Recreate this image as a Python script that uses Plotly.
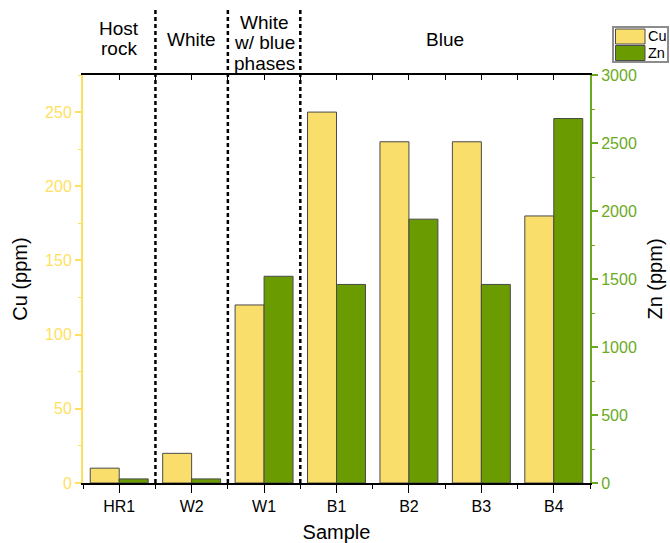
import plotly.graph_objects as go

samples = ["HR1", "W2", "W1", "B1", "B2", "B3", "B4"]
cu_ppm = [10, 20, 120, 250, 230, 230, 180]
zn_ppm = [30, 30, 1520, 1460, 1940, 1460, 2680]
group_lines = [["Host", "rock"], ["White"], ["White", "w/ blue", "phases"], ["Blue"]]
group_centers = [0, 1, 2, 4.5]
group_bounds = [0.5, 1.5, 2.5]
series_names = ["Cu", "Zn"]

YELLOW = "#F9DE6B"
YELLOW_TXT = "#FFDF60"
GREEN = "#6A9B00"
GREEN_TXT = "#6AAA1E"
FONT = "Liberation Sans, Arial, sans-serif"

# plot-area geometry (pixels) for placing header text / legend
L, R, T, B = 83, 590, 75, 483
W, H = R - L, B - T
def px_x(p):
    return (p - L) / W
def px_y(p):
    return (B - p) / H

xpos = list(range(len(samples)))

fig = go.Figure()
fig.add_trace(go.Bar(x=xpos, y=cu_ppm, name=series_names[0],
                     marker=dict(color=YELLOW, line=dict(color="#4a4a4a", width=1)),
                     offsetgroup="cu", yaxis="y"))
fig.add_trace(go.Bar(x=xpos, y=zn_ppm, name=series_names[1],
                     marker=dict(color=GREEN, line=dict(color="#4a4a4a", width=1)),
                     offsetgroup="zn", yaxis="y2"))
# helper invisible trace for top axis
fig.add_trace(go.Scatter(x=[0], y=[0], xaxis="x2", yaxis="y", mode="markers",
                         marker=dict(opacity=0), showlegend=False, hoverinfo="skip"))

shapes = []
for b in group_bounds:
    shapes.append(dict(type="line", xref="x", yref="paper", x0=b, x1=b, y0=0, y1=px_y(9),
                       line=dict(color="black", width=2.5, dash="4px,3px")))

annotations = []
line_gap = 20.5
header_mid = [38.5, 39, 42.5, 39]
for lines, c, mid in zip(group_lines, group_centers, header_mid):
    n = len(lines)
    start = mid - (n - 1) * line_gap / 2
    for i, ln in enumerate(lines):
        annotations.append(dict(text=ln, x=c, xref="x", y=px_y(start + i * line_gap), yref="paper",
                                showarrow=False, yanchor="middle",
                                font=dict(size=19, color="black", family=FONT)))

# manual legend box (top right)
shapes.append(dict(type="rect", xref="paper", yref="paper", x0=px_x(613), x1=px_x(668),
                   y0=px_y(62), y1=px_y(27), line=dict(color="#8c8c8c", width=2), fillcolor="white"))
leg_colors = [YELLOW, GREEN]
for i, (nm, col) in enumerate(zip(series_names, leg_colors)):
    y_top = 29 + i * 16.5
    shapes.append(dict(type="rect", xref="paper", yref="paper", x0=px_x(615.5), x1=px_x(645),
                       y0=px_y(y_top + 15), y1=px_y(y_top), line=dict(color="#4a4a4a", width=1),
                       fillcolor=col))
    annotations.append(dict(text=nm, xref="paper", yref="paper", x=px_x(646), y=px_y(y_top + 7.5),
                            xanchor="left", yanchor="middle", showarrow=False,
                            font=dict(size=14.5, color="black", family=FONT)))

fig.update_layout(
    width=670, height=543,
    margin=dict(l=L, r=670 - R, t=T, b=543 - B, autoexpand=False),
    paper_bgcolor="white", plot_bgcolor="white",
    barmode="group", bargap=0.2, bargroupgap=0,
    font=dict(family=FONT, color="black"),
    shapes=shapes, annotations=annotations,
    showlegend=False,
    xaxis=dict(range=[-0.5, 6.5], tickvals=xpos, ticktext=samples, showgrid=False, zeroline=False,
               showline=True, linecolor="black", linewidth=1.5, ticks="outside", ticklen=8, tickcolor="black",
               tickwidth=1.2, tickfont=dict(size=16, color="black"), automargin=False,
               minor=dict(tick0=0.5, dtick=1, ticks="outside", ticklen=4, tickcolor="black", tickwidth=1.2),
               title=dict(text="Sample", font=dict(size=20, color="black"), standoff=12)),
    xaxis2=dict(range=[-0.5, 6.5], overlaying="x", side="top", tickvals=xpos, showticklabels=False,
                showgrid=False, zeroline=False, showline=True, linecolor="black", linewidth=1.5,
                ticks="inside", ticklen=5, tickcolor="black", tickwidth=1.2, automargin=False,
                minor=dict(tick0=0.5, dtick=1, ticks="inside", ticklen=5, tickcolor="black", tickwidth=1.2)),
    yaxis=dict(range=[0, 275], dtick=50, showgrid=False, zeroline=False, showline=True,
               linecolor=YELLOW_TXT, linewidth=2, ticks="outside", ticklen=6, tickcolor=YELLOW_TXT, tickwidth=1.5,
               tickfont=dict(size=16, color=YELLOW_TXT), automargin=False,
               minor=dict(dtick=25, ticks="outside", ticklen=3, tickcolor=YELLOW_TXT, tickwidth=1.2),
               title=dict(text="Cu (ppm)", font=dict(size=20, color="black"), standoff=12)),
    yaxis2=dict(range=[0, 3000], dtick=500, overlaying="y", side="right", showgrid=False, zeroline=False,
                showline=True, linecolor=GREEN_TXT, linewidth=2, ticks="outside", ticklen=6, tickcolor=GREEN_TXT,
                tickwidth=1.5, tickfont=dict(size=16, color=GREEN_TXT), automargin=False,
                minor=dict(dtick=250, ticks="outside", ticklen=3, tickcolor=GREEN_TXT, tickwidth=1.2),
                title=dict(text="Zn (ppm)", font=dict(size=20, color="black"), standoff=12)),
)

fig.write_html("out.html")
